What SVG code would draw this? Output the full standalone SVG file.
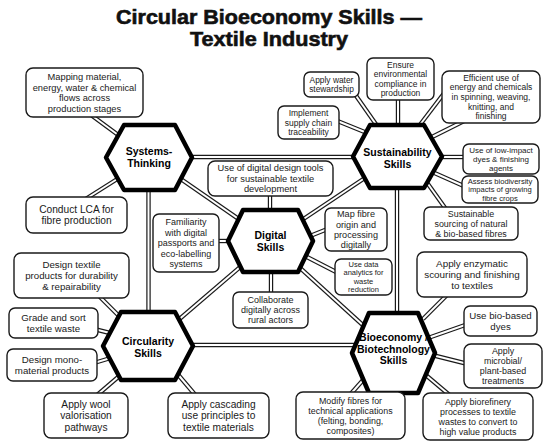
<svg xmlns="http://www.w3.org/2000/svg" xmlns:xlink="http://www.w3.org/1999/xlink" width="550" height="447" viewBox="0 0 550 447">
<style>
.bg{fill:#fff}
.title{font-family:"Liberation Sans",Arial,sans-serif;font-weight:700;font-size:20px;fill:#111;stroke:#111;stroke-width:0.6;text-anchor:middle}
.box{fill:#fff;stroke:#1a1a1a;stroke-width:1.4}
.hex{fill:#fff;stroke:#000;stroke-width:4.5;stroke-linejoin:round}
.t{font-family:"Liberation Sans",Arial,sans-serif;fill:#1a1a1a;text-anchor:middle}
.h{font-family:"Liberation Sans",Arial,sans-serif;font-weight:700;font-size:10.5px;fill:#000;text-anchor:middle}
.co{stroke:#1a1a1a;stroke-width:4.4;fill:none}
.ci{stroke:#fff;stroke-width:2;fill:none}
</style>
<defs>
<g id="links">
<line x1="149" y1="157" x2="397" y2="157"/>
<line x1="149" y1="157" x2="270.5" y2="241"/>
<line x1="397" y1="156.5" x2="270.5" y2="241"/>
<line x1="270.5" y1="241" x2="148" y2="346"/>
<line x1="270.5" y1="241" x2="393.5" y2="353"/>
<line x1="148.5" y1="157" x2="148.5" y2="346"/>
<line x1="397" y1="156.5" x2="397" y2="353"/>
<line x1="148" y1="345" x2="393" y2="345"/>
<line x1="87" y1="112" x2="125" y2="140"/>
<line x1="352" y1="90" x2="380" y2="130"/>
<line x1="398" y1="95" x2="398" y2="130"/>
<line x1="448" y1="88" x2="416" y2="130"/>
<line x1="466" y1="120" x2="428" y2="139"/>
<line x1="335" y1="120" x2="372" y2="135"/>
<line x1="440" y1="157" x2="466" y2="157"/>
<line x1="466" y1="187" x2="430" y2="171"/>
<line x1="423" y1="177" x2="448" y2="212"/>
<line x1="270" y1="190" x2="270" y2="215"/>
<line x1="215" y1="241" x2="232" y2="241"/>
<line x1="330" y1="228" x2="305" y2="238"/>
<line x1="305" y1="256" x2="340" y2="274"/>
<line x1="271" y1="268" x2="271" y2="298"/>
<line x1="84" y1="200" x2="122" y2="176"/>
<line x1="96" y1="293" x2="123" y2="320"/>
<line x1="94" y1="329" x2="114" y2="334"/>
<line x1="94" y1="363" x2="114" y2="357"/>
<line x1="96" y1="396" x2="124" y2="372"/>
<line x1="175" y1="371" x2="197" y2="397"/>
<line x1="449" y1="293" x2="423" y2="319"/>
<line x1="468" y1="324" x2="428" y2="338"/>
<line x1="468" y1="364" x2="428" y2="354"/>
<line x1="348" y1="397" x2="371" y2="371"/>
<line x1="421" y1="371" x2="453" y2="398"/>
</g>
</defs>
<rect class="bg" x="0" y="0" width="550" height="447"/>
<g id="title">
<text class="title" x="269" y="23.5" textLength="306" lengthAdjust="spacingAndGlyphs">Circular Bioeconomy Skills —</text>
<text class="title" x="269" y="46" textLength="158" lengthAdjust="spacingAndGlyphs">Textile Industry</text>
</g>
<g id="connectors">
<use xlink:href="#links" class="co"/>
<use xlink:href="#links" class="ci"/>
</g>
<g id="hub-systems">
<polygon class="hex" points="106,157.5 124,125 175,125 192,157.5 175,190 124,190"/>
<text class="h" x="149" y="155.2">Systems-</text>
<text class="h" x="149" y="167.2">Thinking</text>
</g>
<g id="hub-sustainability">
<polygon class="hex" points="353,156.5 370,125 424,125 442,156.5 424,188 370,188"/>
<text class="h" x="397.5" y="155.7">Sustainability</text>
<text class="h" x="397.5" y="167.7">Skills</text>
</g>
<g id="hub-digital">
<polygon class="hex" points="228,241 243,210 298,210 313,241 298,272 243,272"/>
<text class="h" x="270.5" y="238.7">Digital</text>
<text class="h" x="270.5" y="250.7">Skills</text>
</g>
<g id="hub-circularity">
<polygon class="hex" points="103,346 121,312 175,312 193,346 175,380 121,380"/>
<text class="h" x="148" y="345.2">Circularity</text>
<text class="h" x="148" y="357.2">Skills</text>
</g>
<g id="hub-bioeconomy">
<polygon class="hex" points="352,353 369,313 418,313 435,353 418,393 369,393"/>
<text class="h" x="393.5" y="341.2" font-size="10">Bioeconomy /</text>
<text class="h" x="393.5" y="352.5" font-size="10">Biotechnology</text>
<text class="h" x="393.5" y="363.8" font-size="10">Skills</text>
</g>
<g id="n-mapping">
<rect class="box" x="26" y="68" width="117" height="49" rx="7"/>
<text class="t" font-size="9.3"><tspan x="84.5" y="80">Mapping material,</tspan><tspan x="84.5" y="90.5">energy, water &amp; chemical</tspan><tspan x="84.5" y="101">flows across</tspan><tspan x="84.5" y="111.5">production stages</tspan></text>
</g>
<g id="n-water">
<rect class="box" x="304" y="72" width="55" height="25" rx="6"/>
<text class="t" font-size="8.4"><tspan x="331.5" y="82.7">Apply water</tspan><tspan x="331.5" y="92.2">stewardship</tspan></text>
</g>
<g id="n-ensure">
<rect class="box" x="367" y="58" width="67" height="42" rx="6"/>
<text class="t" font-size="8.5"><tspan x="400.5" y="67.6">Ensure</tspan><tspan x="400.5" y="77.2">environmental</tspan><tspan x="400.5" y="86.8">compliance in</tspan><tspan x="400.5" y="96.4">production</tspan></text>
</g>
<g id="n-efficient">
<rect class="box" x="442" y="71" width="98" height="52" rx="7"/>
<text class="t" font-size="8.5"><tspan x="491" y="80.8">Efficient use of</tspan><tspan x="491" y="90.4">energy and chemicals</tspan><tspan x="491" y="100">in spinning, weaving,</tspan><tspan x="491" y="109.6">knitting, and</tspan><tspan x="491" y="119.2">finishing</tspan></text>
</g>
<g id="n-implement">
<rect class="box" x="278" y="106" width="61" height="33" rx="6"/>
<text class="t" font-size="8.5"><tspan x="308.5" y="115.9">Implement</tspan><tspan x="308.5" y="125.5">supply chain</tspan><tspan x="308.5" y="135.1">traceability</tspan></text>
</g>
<g id="n-lowimpact">
<rect class="box" x="463" y="144" width="76" height="30" rx="6"/>
<text class="t" font-size="8"><tspan x="501" y="152.8">Use of low-impact</tspan><tspan x="501" y="161.8">dyes &amp; finishing</tspan><tspan x="501" y="170.8">agents</tspan></text>
</g>
<g id="n-biodiversity">
<rect class="box" x="462" y="176" width="76" height="27" rx="6"/>
<text class="t" font-size="7.6"><tspan x="500" y="183.7">Assess biodiversity</tspan><tspan x="500" y="192.2">impacts of growing</tspan><tspan x="500" y="200.7">fibre crops</tspan></text>
</g>
<g id="n-sourcing">
<rect class="box" x="424" y="207" width="94" height="33" rx="6"/>
<text class="t" font-size="8.9"><tspan x="471" y="216.6">Sustainable</tspan><tspan x="471" y="226.6">sourcing of natural</tspan><tspan x="471" y="236.6">&amp; bio-based fibres</tspan></text>
</g>
<g id="n-designtools">
<rect class="box" x="208" y="161" width="125" height="35" rx="7"/>
<text class="t" font-size="9.3"><tspan x="270.5" y="171.3">Use of digital design tools</tspan><tspan x="270.5" y="181.8">for sustainable textile</tspan><tspan x="270.5" y="192.3">development</tspan></text>
</g>
<g id="n-familiarity">
<rect class="box" x="153" y="214" width="66" height="58" rx="6"/>
<text class="t" font-size="9"><tspan x="186" y="225.3">Familiarity</tspan><tspan x="186" y="235.8">with digital</tspan><tspan x="186" y="246.3">passports and</tspan><tspan x="186" y="256.8">eco-labelling</tspan><tspan x="186" y="267.3">systems</tspan></text>
</g>
<g id="n-mapfibre">
<rect class="box" x="325" y="208" width="62" height="43" rx="6"/>
<text class="t" font-size="9.1"><tspan x="356" y="217.2">Map fibre</tspan><tspan x="356" y="227.5">origin and</tspan><tspan x="356" y="237.8">processing</tspan><tspan x="356" y="248.1">digitally</tspan></text>
</g>
<g id="n-analytics">
<rect class="box" x="335" y="259" width="57" height="36" rx="6"/>
<text class="t" font-size="7.5"><tspan x="363.5" y="266.9">Use data</tspan><tspan x="363.5" y="275.4">analytics for</tspan><tspan x="363.5" y="283.9">waste</tspan><tspan x="363.5" y="292.4">reduction</tspan></text>
</g>
<g id="n-collaborate">
<rect class="box" x="233" y="292" width="75" height="36" rx="6"/>
<text class="t" font-size="9"><tspan x="270.5" y="303">Collaborate</tspan><tspan x="270.5" y="313.2">digitally across</tspan><tspan x="270.5" y="323.4">rural actors</tspan></text>
</g>
<g id="n-lca">
<rect class="box" x="26" y="197" width="101" height="36" rx="7"/>
<text class="t" font-size="10.2"><tspan x="76.5" y="212.8">Conduct LCA for</tspan><tspan x="76.5" y="224.3">fibre production</tspan></text>
</g>
<g id="n-durability">
<rect class="box" x="14" y="253" width="115" height="45" rx="7"/>
<text class="t" font-size="9.7"><tspan x="71.5" y="267.9">Design textile</tspan><tspan x="71.5" y="278.9">products for durability</tspan><tspan x="71.5" y="289.9">&amp; repairability</tspan></text>
</g>
<g id="n-grade">
<rect class="box" x="9" y="308" width="89" height="30" rx="6"/>
<text class="t" font-size="9.7"><tspan x="53.5" y="320.9">Grade and sort</tspan><tspan x="53.5" y="331.9">textile waste</tspan></text>
</g>
<g id="n-mono">
<rect class="box" x="7" y="349" width="90" height="32" rx="6"/>
<text class="t" font-size="9.7"><tspan x="52" y="362.9">Design mono-</tspan><tspan x="52" y="373.9">material products</tspan></text>
</g>
<g id="n-wool">
<rect class="box" x="44" y="393" width="84" height="45" rx="7"/>
<text class="t" font-size="10.2"><tspan x="86" y="407.6">Apply wool</tspan><tspan x="86" y="419.1">valorisation</tspan><tspan x="86" y="430.6">pathways</tspan></text>
</g>
<g id="n-cascading">
<rect class="box" x="168" y="393" width="101" height="45" rx="7"/>
<text class="t" font-size="10.2"><tspan x="218.5" y="407.6">Apply cascading</tspan><tspan x="218.5" y="419.1">use principles to</tspan><tspan x="218.5" y="430.6">textile materials</tspan></text>
</g>
<g id="n-enzymatic">
<rect class="box" x="417" y="252" width="110" height="45" rx="7"/>
<text class="t" font-size="9.9"><tspan x="472" y="266.8">Apply enzymatic</tspan><tspan x="472" y="278">scouring and finishing</tspan><tspan x="472" y="289.2">to textiles</tspan></text>
</g>
<g id="n-biodyes">
<rect class="box" x="464" y="306" width="73" height="30" rx="6"/>
<text class="t" font-size="9.7"><tspan x="500.5" y="318.9">Use bio-based</tspan><tspan x="500.5" y="329.9">dyes</tspan></text>
</g>
<g id="n-microbial">
<rect class="box" x="464" y="344" width="78" height="44" rx="7"/>
<text class="t" font-size="8.9"><tspan x="503" y="354.1">Apply</tspan><tspan x="503" y="364.1">microbial/</tspan><tspan x="503" y="374.1">plant-based</tspan><tspan x="503" y="384.1">treatments</tspan></text>
</g>
<g id="n-modify">
<rect class="box" x="296" y="392" width="109" height="47" rx="7"/>
<text class="t" font-size="8.9"><tspan x="350.5" y="403.6">Modify fibres for</tspan><tspan x="350.5" y="413.6">technical applications</tspan><tspan x="350.5" y="423.6">(felting, bonding,</tspan><tspan x="350.5" y="433.6">composites)</tspan></text>
</g>
<g id="n-biorefinery">
<rect class="box" x="423" y="393" width="110" height="47" rx="7"/>
<text class="t" font-size="8.9"><tspan x="478" y="404.6">Apply biorefinery</tspan><tspan x="478" y="414.6">processes to textile</tspan><tspan x="478" y="424.6">wastes to convert to</tspan><tspan x="478" y="434.6">high value products</tspan></text>
</g>
</svg>
